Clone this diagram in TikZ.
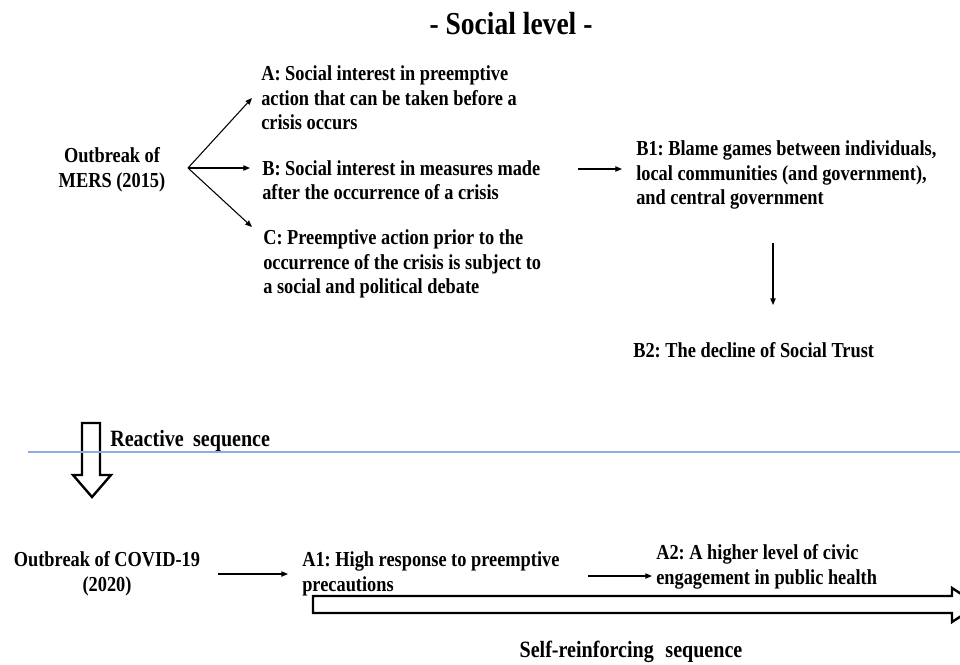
\documentclass[tikz,border=0pt]{standalone}
\usepackage{fontspec}
\setmainfont{Liberation Serif}[FakeStretch=0.86]
\usetikzlibrary{arrows.meta}
\definecolor{sepline}{RGB}{143,170,220}
\frenchspacing
\tikzset{
  txt/.style={inner sep=0pt, align=left, font=\bfseries\fontsize{16}{18.4}\selectfont},
  seqlabel/.style={txt, font=\bfseries\fontsize{17.5}{20}\selectfont},
  arr/.style={line width=0.8pt, -{Triangle[length=5pt,width=4pt]}},
  hollow/.style={line width=1.8pt, line join=miter}
}
\begin{document}
\begin{tikzpicture}[x=0.75pt, y=-0.75pt]
\useasboundingbox (0,0) rectangle (960,664);
\node[txt, font=\bfseries\fontsize{24}{28}\selectfont] (title) at (511,24) {- Social level -};
% MERS branch
\node[txt, align=center] (mers) at (112,170) {Outbreak of\\MERS (2015)};
\coordinate (fork) at (188,168);
\node[txt, anchor=west] (A) at (261,98) {A: Social interest in preemptive\\action that can be taken before a\\crisis occurs};
\node[txt, anchor=west] (B) at (262,180) {B: Social interest in measures made\\after the occurrence of a crisis};
\node[txt, anchor=west] (C) at (263,264) {C: Preemptive action prior to the\\occurrence of the crisis is subject to\\a social and political debate};
\draw[arr] (fork) -- ([shift={(-9,0)}]A.west);
\draw[arr] (fork) -- ([shift={(-12,-12)}]B.west);
\draw[arr] (fork) -- ([shift={(-11,-37)}]C.west);
\node[txt, anchor=west] (B1) at (636,175) {B1: Blame games between individuals,\\local communities (and government),\\and central government};
\node[txt, anchor=west] (B2) at (633,350) {B2: The decline of Social Trust};
\draw[arr] ([shift={(-58,-6)}]B1.west) -- ([shift={(-14,-6)}]B1.west);
\draw[arr] ([shift={(140,-107)}]B2.west) -- ([shift={(140,-45)}]B2.west);
% reactive sequence
\draw[hollow] (82,423) -- (100,423) -- (100,475) -- (111,475) -- (92,497) -- (73,475) -- (82,475) -- cycle;
\node[seqlabel, anchor=west] (react) at (110,441) {Reactive\hspace{0.4em}sequence};
\draw[sepline, line width=0.8pt] (28,452) -- (960,452);
% COVID-19 sequence
\node[txt, align=center] (covid) at (107,574) {Outbreak of COVID-19\\(2020)};
\node[txt, anchor=west] (A1) at (302,574) {A1: High response to preemptive\\precautions};
\node[txt, anchor=west] (A2) at (656,567) {A2: A higher level of civic\\engagement in public health};
\draw[arr] ([shift={(18,0)}]covid.east) -- ([shift={(-14,0)}]A1.west);
\draw[arr] ([shift={(-68,9)}]A2.west) -- ([shift={(-4,9)}]A2.west);
\draw[hollow] (313,596) -- (952,596) -- (952,588) -- (978,605) -- (952,622) -- (952,613) -- (313,613) -- cycle;
\node[seqlabel] (selfrein) at (631,652) {Self-reinforcing\hspace{0.5em}sequence};
\end{tikzpicture}
\end{document}
